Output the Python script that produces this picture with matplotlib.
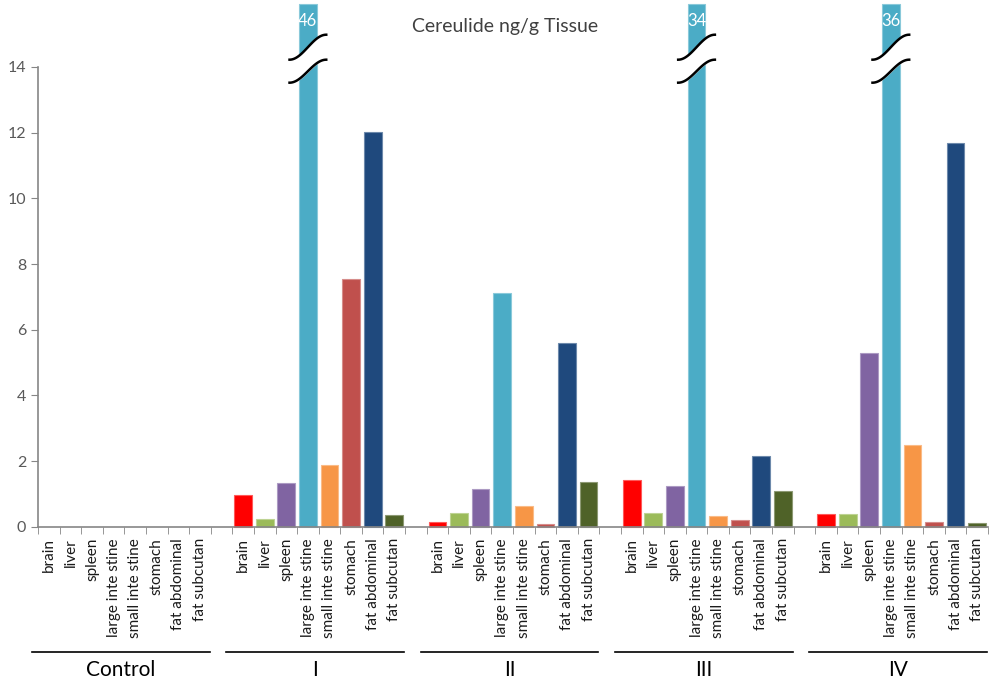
import numpy as np
import matplotlib.pyplot as plt
from matplotlib.ticker import FixedLocator

plt.rcParams['font.family'] = ['Lato', 'DejaVu Sans']

tissues = ["brain", "liver", "spleen", "large inte stine", "small inte stine",
           "stomach", "fat abdominal", "fat subcutan"]
groups = ["Control", "I", "II", "III", "IV"]
colors = ["#FF0000", "#9BBB59", "#8064A2", "#4BACC6", "#F79646",
          "#C0504D", "#1F497D", "#4F6228"]

control = [0, 0, 0, 0, 0, 0, 0, 0]
grp_I = [0.96, 0.24, 1.34, 46, 1.88, 7.55, 12.03, 0.35]
grp_II = [0.15, 0.42, 1.15, 7.12, 0.63, 0.10, 5.60, 1.38]
grp_III = [1.42, 0.42, 1.25, 34, 0.33, 0.20, 2.17, 1.10]
grp_IV = [0.38, 0.38, 5.28, 36, 2.50, 0.15, 11.68, 0.12]
values = [control, grp_I, grp_II, grp_III, grp_IV]

y_max = 14
y_cap = 15.9   # broken bars are drawn up to here (above the axis)
slot = len(tissues) + 1


def lighten(c, f=0.35):
    r, g, b = plt.matplotlib.colors.to_rgb(c)
    return (r + (1 - r) * f, g + (1 - g) * f, b + (1 - b) * f)


fig = plt.figure(figsize=(10, 6.87), dpi=100)
ax = fig.add_axes([0.038, 0.233, 0.95, 0.6696])

xpos = []
labels = []
for g, vals in enumerate(values):
    for t, v in enumerate(vals):
        x = g * slot + t
        xpos.append(x)
        labels.append(tissues[t])
        h = min(v, y_cap)
        if v > 0:
            ax.bar(x, h, width=0.82, color=colors[t], edgecolor=lighten(colors[t]),
                   linewidth=0.8, zorder=2, clip_on=False)
        if v > y_cap:
            ax.text(x, y_cap - 0.25, "%d" % v, color="white", fontsize=12,
                    ha="center", va="top", zorder=5, clip_on=False)
            # break marks
            s = np.linspace(0, 1, 60)
            xs = x - 0.85 + 1.7 * s
            sm = (1 - np.cos(np.pi * s)) / 2
            up = 14.22 + (14.98 - 14.22) * sm
            lo = 13.52 + (14.22 - 13.52) * sm
            ax.fill_between(xs, lo, up, color="white", zorder=3, clip_on=False)
            ax.plot(xs, up, color="black", lw=1.8, zorder=4, clip_on=False)
            ax.plot(xs, lo, color="black", lw=1.8, zorder=4, clip_on=False)

n_slots = len(groups) * slot - 1
ax.set_xlim(-0.5, n_slots - 0.5)
ax.set_ylim(0, y_max)
ax.set_yticks(np.arange(0, 15, 2))

ax.xaxis.set_major_locator(FixedLocator(xpos))
ticklabels = ax.set_xticklabels(labels, rotation=90, fontsize=11, color="#1a1a1a")
ax.xaxis.set_minor_locator(FixedLocator(np.arange(-0.5, n_slots, 1)))
ax.tick_params(axis="x", which="major", length=0, pad=8)
ax.tick_params(axis="x", which="minor", length=5, color="#868686", direction="out")
ax.tick_params(axis="y", length=5, color="#868686", labelsize=11.5, labelcolor="#595959")

# fit tick label size so the longest label is ~100 px long, like the original
fig.canvas.draw()
r = fig.canvas.get_renderer()
longest = max(tl.get_window_extent(r).height for tl in ax.get_xticklabels())
fs = 11 * 100.0 / longest
for tl in ax.get_xticklabels():
    tl.set_fontsize(fs)

for sp in ["top", "right"]:
    ax.spines[sp].set_visible(False)
for sp in ["left", "bottom"]:
    ax.spines[sp].set_color("#868686")
    ax.spines[sp].set_linewidth(1.2)

# group lines and names
tr = ax.get_xaxis_transform()
for g, name in enumerate(groups):
    x0 = g * slot - 0.78
    x1 = g * slot + len(tissues) - 0.55
    ax.plot([x0, x1], [-0.272, -0.272], color="black", lw=1.2, transform=tr, clip_on=False)
    ax.text((x0 + x1) / 2, -0.311, name, transform=tr, ha="center", va="center",
            fontsize=15, color="black")

fig.text(0.505, 0.962, "Cereulide ng/g Tissue", ha="center", va="center",
         fontsize=14, color="#404040")

fig.savefig("out.png", dpi=100)
